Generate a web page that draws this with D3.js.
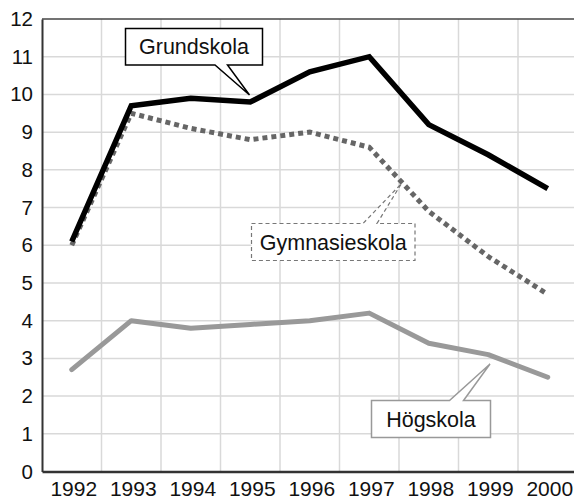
<!DOCTYPE html>
<html>
<head>
<meta charset="utf-8">
<script src="https://cdn.jsdelivr.net/npm/d3@7"></script>
<style>
  body { margin: 0; background: #fff; }
  svg { display: block; font-family: "Liberation Sans", Arial, sans-serif; }
</style>
</head>
<body>
<svg width="574" height="501"></svg>
<script>
// Data
var years = ["1992", "1993", "1994", "1995", "1996", "1997", "1998", "1999", "2000"];
var grundskola = [6.1, 9.7, 9.9, 9.8, 10.6, 11.0, 9.2, 8.4, 7.5];
var gymnasieskola = [6.0, 9.5, 9.1, 8.8, 9.0, 8.6, 6.9, 5.7, 4.7];
var hogskola = [2.7, 4.0, 3.8, 3.9, 4.0, 4.2, 3.4, 3.1, 2.5];
var yTicks = [0, 1, 2, 3, 4, 5, 6, 7, 8, 9, 10, 11, 12];

var svg = d3.select("svg");

var x = d3.scaleBand().domain(years).range([42, 577.5]).padding(0);
var y = d3.scaleLinear().domain([0, 12]).range([471.5, 19]);

function cx(i) { return x(years[i]) + x.bandwidth() / 2; }

// grid
svg.append("g").selectAll("line.h")
  .data(yTicks.slice(1, 12))
  .enter().append("line")
  .attr("x1", 42).attr("x2", 574)
  .attr("y1", function(d) { return y(d); })
  .attr("y2", function(d) { return y(d); })
  .attr("stroke", "#d9d9d9").attr("stroke-width", 1.5);

svg.append("g").selectAll("line.v")
  .data(years.slice(1))
  .enter().append("line")
  .attr("x1", function(d) { return x(d); })
  .attr("x2", function(d) { return x(d); })
  .attr("y1", y(12)).attr("y2", y(0))
  .attr("stroke", "#d9d9d9").attr("stroke-width", 1.5);

// top frame
svg.append("line")
  .attr("x1", 42).attr("x2", 574)
  .attr("y1", y(12)).attr("y2", y(12))
  .attr("stroke", "#444").attr("stroke-width", 1.5);

// axes
var yAxis = svg.append("g")
  .attr("transform", "translate(42,0)")
  .call(d3.axisLeft(y).tickValues(yTicks).tickSize(0).tickPadding(9));
yAxis.select(".domain").attr("stroke", "#333").attr("stroke-width", 2);
yAxis.selectAll("text").attr("font-size", 20.5).attr("fill", "#111")
  .attr("font-family", "Liberation Sans, Arial, sans-serif");

var xAxis = svg.append("g")
  .attr("transform", "translate(0," + y(0) + ")")
  .call(d3.axisBottom(x).tickSize(0).tickPadding(10));
xAxis.select(".domain").attr("stroke", "#333").attr("stroke-width", 2.5);
xAxis.selectAll("text").attr("font-size", 21).attr("fill", "#111")
  .attr("dx", 2)
  .attr("font-family", "Liberation Sans, Arial, sans-serif");

// lines
var line = d3.line()
  .x(function(d, i) { return cx(i); })
  .y(function(d) { return y(d); });

svg.append("path").datum(hogskola)
  .attr("fill", "none").attr("stroke", "#999").attr("stroke-width", 5)
  .attr("stroke-linecap", "round").attr("stroke-linejoin", "round")
  .attr("d", line);

svg.append("path").datum(gymnasieskola)
  .attr("fill", "none").attr("stroke", "#666").attr("stroke-width", 5)
  .attr("stroke-dasharray", "5,4")
  .attr("d", line);

svg.append("path").datum(grundskola)
  .attr("fill", "none").attr("stroke", "#000").attr("stroke-width", 5.5)
  .attr("d", line);

// callouts
function callout(box, tip, base, label, stroke, dash, sw) {
  // box: [x0, y0, x1, y1]; base: [xa, xb, yEdge]
  var p = d3.path();
  var x0 = box[0], y0 = box[1], x1 = box[2], y1 = box[3];
  if (base[2] === y0) {
    p.moveTo(x0, y0);
    p.lineTo(base[0], y0);
    p.lineTo(tip[0], tip[1]);
    p.lineTo(base[1], y0);
    p.lineTo(x1, y0);
    p.lineTo(x1, y1);
    p.lineTo(x0, y1);
  } else {
    p.moveTo(x0, y0);
    p.lineTo(x1, y0);
    p.lineTo(x1, y1);
    p.lineTo(base[1], y1);
    p.lineTo(tip[0], tip[1]);
    p.lineTo(base[0], y1);
    p.lineTo(x0, y1);
  }
  p.closePath();
  svg.append("path")
    .attr("d", p.toString())
    .attr("fill", "#fff")
    .attr("stroke", stroke)
    .attr("stroke-width", sw)
    .attr("stroke-dasharray", dash)
    .attr("stroke-linejoin", "miter");
  svg.append("text")
    .attr("x", (x0 + x1) / 2)
    .attr("y", (y0 + y1) / 2 + 7.5)
    .attr("text-anchor", "middle")
    .attr("font-size", 21.5)
    .attr("fill", "#111")
    .text(label);
}

callout([125.5, 28.5, 262.5, 65], [249.5, 95], [215, 227.5, 65], "Grundskola", "#000", null, 1.5);
callout([251.5, 223.5, 415, 260.5], [401.5, 183.5], [363, 377, 223.5], "Gymnasieskola", "#777", "4,3", 1.2);
callout([371.5, 400.5, 490.5, 437.5], [490, 364], [449.5, 463.5, 400.5], "Högskola", "#999", null, 1.5);
</script>
</body>
</html>
